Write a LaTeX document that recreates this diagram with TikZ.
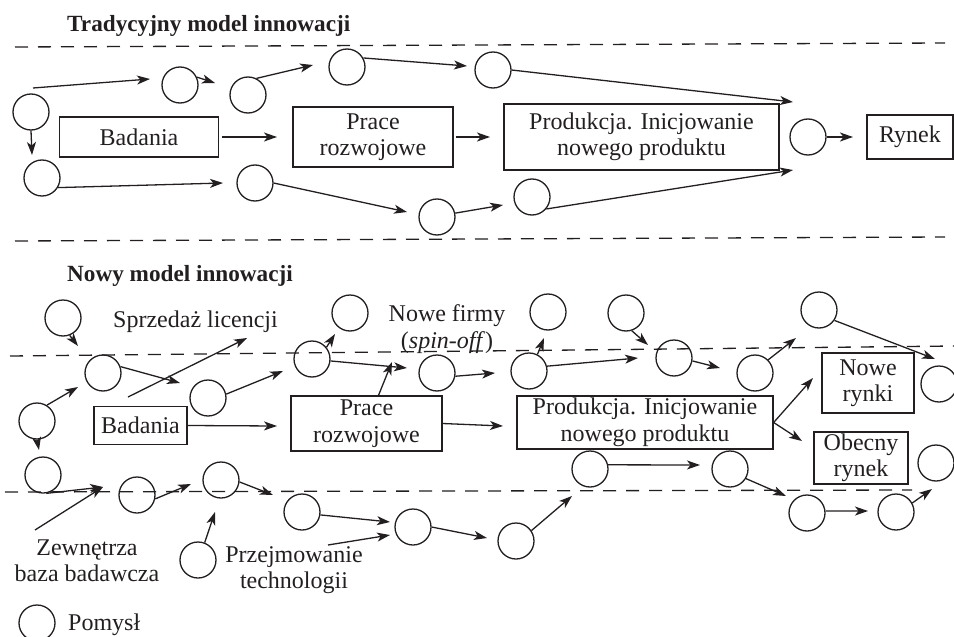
\documentclass[tikz,border=0pt]{standalone}
\usepackage{fontspec}
\setmainfont{Liberation Serif}
\usetikzlibrary{arrows.meta,calc}
\definecolor{ink}{RGB}{35,31,32}
\newcommand\bodyfs{\fontsize{24}{26.5}\selectfont}
\newcommand\headfs{\fontsize{23.2}{26}\selectfont\bfseries}
\tikzset{
  idea/.style={circle, draw=ink, line width=1.3pt, minimum size=36pt, inner sep=0pt},
  stage/.style={rectangle, draw=ink, line width=1.3pt, inner sep=0pt, align=center,
                font=\bodyfs, text=ink},
  flow/.style={draw=ink, line width=1.3pt, -{Stealth[length=13pt,width=9pt,inset=3.5pt]}},
  lane/.style={draw=ink, line width=1.3pt, dash pattern=on 13pt off 10pt},
  caption/.style={align=center, font=\bodyfs, text=ink, inner sep=0pt},
}
\begin{document}
\begin{tikzpicture}[x=1pt,y=-1pt]
\useasboundingbox (0,0) rectangle (954,637);

% ---------------- traditional model ----------------
\node[anchor=base west, font=\headfs, text=ink, inner sep=0pt] (head1) at (67,31) {Tradycyjny model innowacji};
\draw[lane] (15,47) -- (945,43);
\draw[lane] (15,241) -- (945,237);

\node[stage, minimum width=159pt, minimum height=40pt] (bad1) at (139,137) {Badania};
\node[stage, minimum width=160pt, minimum height=60pt] (pr1) at (373,137) {Prace\\rozwojowe};
\node[stage, minimum width=275pt, minimum height=66pt] (prod1) at (641.5,137) {Produkcja. Inicjowanie\\nowego produktu};
\node[stage, minimum width=86pt, minimum height=44pt] (ryn1) at (910,137) {Rynek};

\node[idea] (t1) at (31,112) {};
\node[idea] (t2) at (180,85) {};
\node[idea] (t3) at (248,95) {};
\node[idea] (t4) at (347,67) {};
\node[idea] (t5) at (493,70) {};
\node[idea] (t6) at (42,178) {};
\node[idea] (t7) at (255,183) {};
\node[idea] (t8) at (437,217) {};
\node[idea] (t9) at (532,197) {};
\node[idea] (t10) at (808,137) {};

\coordinate (t1top) at (33,88);
\coordinate (a1) at (150,79);
\coordinate (a2) at (215,83);
\coordinate (a3) at (313,65);
\coordinate (a4) at (467,66);
\coordinate (a5) at (793,102);
\coordinate (a6) at (32,155);
\coordinate (a7) at (223,183);
\coordinate (a8) at (407,212);
\coordinate (a9) at (503,205);
\coordinate (a10) at (793,170);
\coordinate (a11) at (277,137);
\coordinate (a12) at (490,137);
\coordinate (a13) at (853,137);

\draw[flow] (t1top) -- (a1);
\draw[flow] (t2.25) -- (a2);
\draw[flow] (t3.63) -- (a3);
\draw[flow] (t4.29) -- (a4);
\draw[flow] (t5.east) -- (a5);
\draw[flow] (t1.south) -- (a6);
\draw[flow] (t6.-31) -- (a7);
\draw[flow] (t7.east) -- (a8);
\draw[flow] (t8.12) -- (a9);
\draw[flow] (t9.-40) -- (a10);
\draw[flow, shorten <=3pt] (bad1.east) -- (a11);
\draw[flow, shorten <=2pt] (pr1.east) -- (a12);
\draw[flow] (t10.east) -- (a13);

% ---------------- new model ----------------
\node[anchor=base west, font=\headfs, text=ink, inner sep=0pt] (head2) at (67,281) {Nowy model innowacji};
\draw[lane] (10,356) -- (954,346);
\draw[lane] (5,492) -- (912,490);

\node[stage, minimum width=93pt, minimum height=38pt] (bad2) at (140.5,425.5) {Badania};
\node[stage, minimum width=151pt, minimum height=55pt] (pr2) at (366.5,423.5) {Prace\\rozwojowe};
\node[stage, minimum width=256pt, minimum height=53pt] (prod2) at (645,422.5) {Produkcja. Inicjowanie\\nowego produktu};
\node[stage, minimum width=92pt, minimum height=60pt] (nowe) at (868,383) {Nowe\\rynki};
\node[stage, minimum width=94pt, minimum height=52pt] (obec) at (861,458) {Obecny\\rynek};

\node[caption, anchor=base west] (sprz) at (113,327) {Sprzedaż licencji};
\node[caption] (spin) at (447,329) {Nowe firmy\\(\textit{spin-off})};
\node[caption] (zewn) at (87,561) {Zewnętrza\\baza badawcza};
\node[caption] (przej) at (294,570) {Przejmowanie\\technologii};

\node[idea] (b1) at (63,318) {};
\node[idea] (b2) at (103,373) {};
\node[idea] (b3) at (37,421) {};
\node[idea] (b4) at (208,398) {};
\node[idea] (b5) at (312,359) {};
\node[idea] (b6) at (350,313) {};
\node[idea] (b7) at (437,373) {};
\node[idea] (b8) at (529,371) {};
\node[idea] (b9) at (548,312) {};
\node[idea] (b10) at (626,313) {};
\node[idea] (b11) at (674,358) {};
\node[idea] (b12) at (755,373) {};
\node[idea] (b13) at (819,310) {};
\node[idea] (b14) at (939,384) {};
\node[idea] (b15) at (936,463) {};

\node[idea] (e1) at (43,475) {};
\node[idea] (e2) at (137,495) {};
\node[idea] (e3) at (221,480) {};
\node[idea] (e4) at (198,560) {};
\node[idea] (e5) at (302,512) {};
\node[idea] (e6) at (413,527) {};
\node[idea] (e7) at (516,541) {};
\node[idea] (f1) at (590,469) {};
\node[idea] (f2) at (730,469) {};
\node[idea] (f3) at (807,513) {};
\node[idea] (f4) at (896,512) {};

\coordinate (n1) at (78,346);
\coordinate (n2) at (78,387);
\coordinate (n3) at (39,450);
\coordinate (n4) at (180,383);
\coordinate (sprzfoot) at (128,397);
\coordinate (n5) at (247,338);
\coordinate (n6) at (283,371);
\coordinate (n7) at (335,334);
\coordinate (n8) at (407,368);
\coordinate (n9) at (392,362);
\coordinate (n10) at (495,373);
\coordinate (n11) at (544,338);
\coordinate (n12) at (638,358);
\coordinate (n13) at (648,345);
\coordinate (n14) at (720,368);
\coordinate (n15) at (796,338);
\coordinate (n16) at (935,359);
\coordinate (n17) at (813,378);
\coordinate (n18) at (802,441);
\coordinate (n19) at (277,426);
\coordinate (n20) at (503,426);

\draw[flow] (b1.-69) -- (n1);
\draw[flow] (b3.58) -- (n2);
\draw[flow] (b3.south) -- (n3);
\draw[flow] (b2.20) -- (n4);
\draw[flow] (sprzfoot) -- (n5);
\draw[flow] (b4.12) -- (n6);
\draw[flow] (b5.39) -- (n7);
\draw[flow] (b5.-6) -- (n8);
\draw[flow] ([xshift=12pt]pr2.north) -- (n9);
\draw[flow] (b7.-10) -- (n10);
\draw[flow] (b8.63) -- (n11);
\draw[flow] (b8.15) -- (n12);
\draw[flow] (b10.-72) -- (n13);
\draw[flow] (b11.-9) -- (n14);
\draw[flow] (b12.45) -- (n15);
\draw[flow] (b13.-34) -- (n16);
\draw[flow] (prod2.east) -- (n17);
\draw[flow] (prod2.east) -- (n18);
\draw[flow] (bad2.east) -- (n19);
\draw[flow] (pr2.east) -- (n20);

\coordinate (m1) at (103,487);
\coordinate (zewnhead) at (35,530);
\coordinate (m2) at (191,484);
\coordinate (m3) at (215,512);
\coordinate (m4) at (273,495);
\coordinate (m5) at (390,522);
\coordinate (przejhead) at (328,545);
\coordinate (m6) at (390,535);
\coordinate (m7) at (487,538);
\coordinate (m8) at (572,496);
\coordinate (m9) at (700,465);
\coordinate (m10) at (786,496);
\coordinate (m11) at (868,511);
\coordinate (m12) at (932,489);

\draw[flow] (e1.-80) -- (m1);
\draw[flow] (zewnhead) -- (m1);
\draw[flow] (e2.-12) -- (m2);
\draw[flow] (e4.69) -- (m3);
\draw[flow] (e3.-6) -- (m4);
\draw[flow] (e5.-9) -- (m5);
\draw[flow] (przejhead) -- (m6);
\draw[flow] (e6.east) -- (m7);
\draw[flow] (e7.34) -- (m8);
\draw[flow] (f1.13) -- (m9);
\draw[flow] (f2.-31) -- (m10);
\draw[flow] (f3.6) -- (m11);
\draw[flow] (f4.29) -- (m12);

% ---------------- legend ----------------
\node[idea] (lg) at (37,623) {};
\node[caption, anchor=west] (lgtext) at (68,625) {Pomysł};
\end{tikzpicture}
\end{document}
